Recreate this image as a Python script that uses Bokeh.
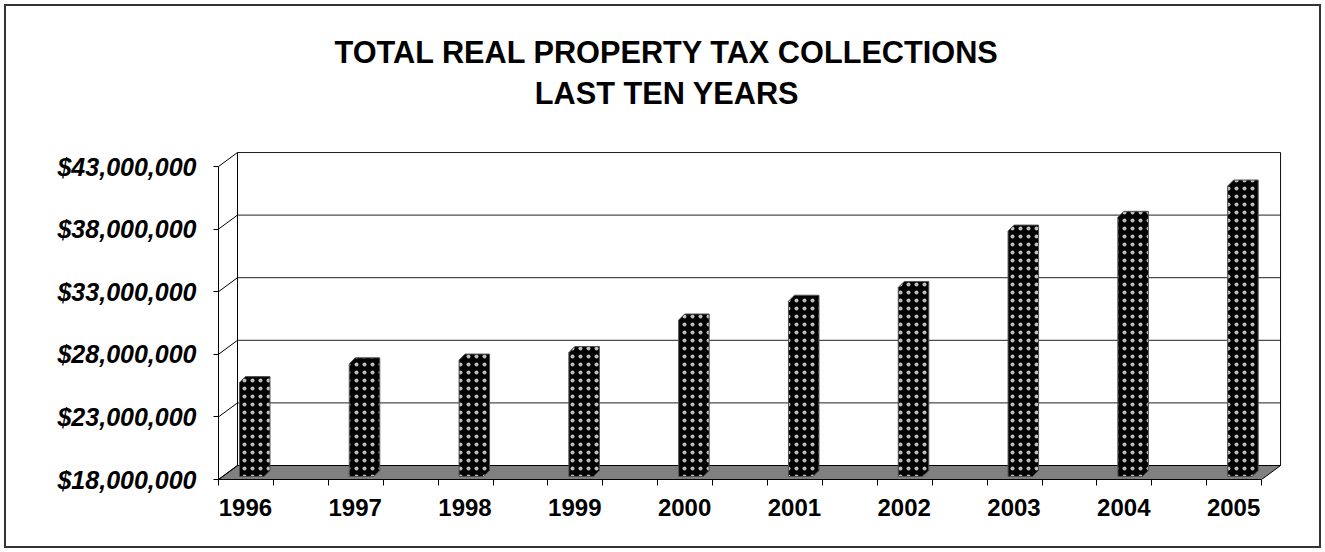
from bokeh.plotting import figure
from bokeh.models import Range1d, FixedTicker, NumeralTickFormatter, Label
from bokeh.embed import file_html
from bokeh.resources import INLINE

# ---------------- data ----------------
years = [1996, 1997, 1998, 1999, 2000, 2001, 2002, 2003, 2004, 2005]
collections = [25500000, 27000000, 27300000, 27900000, 30500000,
               32000000, 33100000, 37600000, 38700000, 41200000]
y_ticks = [18000000, 23000000, 28000000, 33000000, 38000000, 43000000]
title_lines = ["TOTAL REAL PROPERTY TAX COLLECTIONS", "LAST TEN YEARS"]

# ---------------- geometry (pixels -> data) ----------------
PX_X = 109.8            # px per category
PX_Y = 12.52e-6         # px per dollar
FONT = "Liberation Sans"

x_start = years[0] - 0.245
x_end = x_start + 9.5
y0, y1 = y_ticks[0], y_ticks[-1]
wall_dx = 19 / PX_X
wall_dy = 14 / PX_Y

p = figure(width=1325, height=552, output_backend="svg", toolbar_location=None,
           title_location=None,
           x_range=Range1d(x_start, x_start + 1063 / PX_X),
           y_range=Range1d(y0, y0 + 471 / PX_Y),
           min_border_left=218, min_border_right=44,
           min_border_top=8, min_border_bottom=73)
p.xgrid.visible = False
p.ygrid.visible = False
p.outline_line_color = None
p.background_fill_color = "white"
p.border_fill_color = None
p.styles = {"background-color": "white",
            "box-shadow": "inset 0 0 0 4px white, inset 0 0 0 6px #333333"}

# floor
p.patch([x_start, x_start + wall_dx, x_end + wall_dx, x_end],
        [y0, y0 + wall_dy, y0 + wall_dy, y0],
        fill_color="#808080", line_color="black", line_width=1)

# back wall gridlines
p.segment(x0=[x_start + wall_dx] * len(y_ticks[1:]), y0=[t + wall_dy for t in y_ticks[1:]],
          x1=[x_end + wall_dx] * len(y_ticks[1:]), y1=[t + wall_dy for t in y_ticks[1:]],
          line_color="#202020", line_width=1)
# side wall diagonals
p.segment(x0=[x_start] * len(y_ticks), y0=y_ticks,
          x1=[x_start + wall_dx] * len(y_ticks), y1=[t + wall_dy for t in y_ticks],
          line_color="black", line_width=1)
# wall vertical edges
p.segment(x0=[x_start + wall_dx, x_end + wall_dx], y0=[y0 + wall_dy] * 2,
          x1=[x_start + wall_dx, x_end + wall_dx], y1=[y1 + wall_dy] * 2,
          line_color="black", line_width=1)

# bars (3D columns)
bar_left = -0.054
bar_w = 24.5 / PX_X
bar_dx = 6 / PX_X
bar_dy = 6 / PX_Y
bar_shift = 3 / PX_Y
xs, ys = [], []
for yr, v in zip(years, collections):
    xl = yr + bar_left
    xr = xl + bar_w
    yb = y0 + bar_shift
    yt = v + bar_shift
    xs.append([xl, xl, xl + bar_dx, xr + bar_dx, xr + bar_dx, xr])
    ys.append([yb, yt, yt + bar_dy, yt + bar_dy, yb + bar_dy, yb])
p.patches(xs, ys, fill_color="black", line_color="#505050", line_width=1,
          hatch_pattern="dot", hatch_color="white", hatch_scale=8,
          hatch_weight=0.5, hatch_alpha=0.75)

# axes
ya = p.yaxis[0]
ya.ticker = FixedTicker(ticks=y_ticks, minor_ticks=[])
ya.formatter = NumeralTickFormatter(format="$0,0")
ya.bounds = (y0, y1)
ya.axis_line_color = "black"
ya.major_tick_out = 5
ya.major_tick_in = 0
ya.minor_tick_out = 0
ya.minor_tick_in = 0
ya.major_label_standoff = 17
ya.major_label_text_font = FONT
ya.major_label_text_font_size = "25px"
ya.major_label_text_font_style = "bold italic"
ya.major_label_text_color = "black"

xa = p.xaxis[0]
xa.ticker = FixedTicker(ticks=years, minor_ticks=[x_start + 0.5 * k for k in range(20)])
xa.bounds = (x_start, x_end)
xa.axis_line_color = "black"
xa.major_tick_out = 0
xa.major_tick_in = 0
xa.minor_tick_out = 6
xa.minor_tick_in = 0
xa.minor_tick_line_color = "black"
xa.major_label_standoff = 13
xa.major_label_text_font = FONT
xa.major_label_text_font_size = "24px"
xa.major_label_text_font_style = "bold"
xa.major_label_text_color = "black"

# title (inside the frame area, above the chart walls)
title_x = x_start + (666.5 - 218) / PX_X
for line, base_px in zip(title_lines, [52, 93]):
    p.add_layout(Label(x=title_x, y=y0 + (479 - base_px) / PX_Y, text=line,
                       text_align="center", text_baseline="alphabetic",
                       text_font=FONT, text_font_size="30.7px",
                       text_font_style="bold", text_color="black"))

open("out.html", "w").write(file_html(p, INLINE))
